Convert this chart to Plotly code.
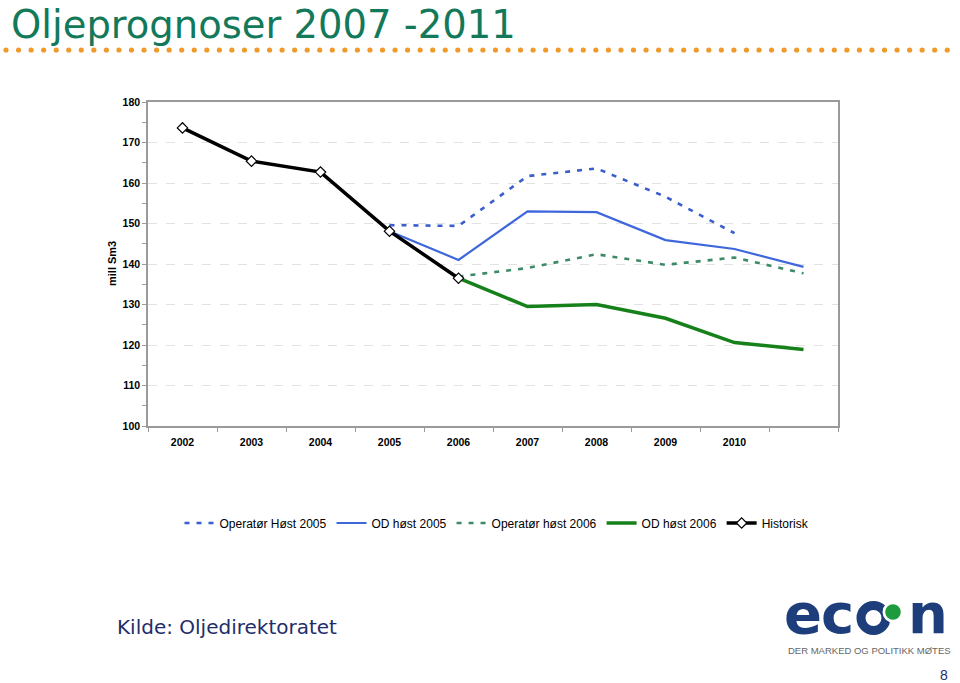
import plotly.graph_objects as go

years = [2002, 2003, 2004, 2005, 2006, 2007, 2008, 2009, 2010, 2011]
tick_years = [2002, 2003, 2004, 2005, 2006, 2007, 2008, 2009, 2010]
tick_labels = ["2002", "2003", "2004", "2005", "2006", "2007", "2008", "2009", "2010"]

operator_host_2005 = [None, None, None, 149.6, 149.4, 161.7, 163.6, 156.6, 147.6, None]
od_host_2005 = [None, None, None, 148.1, 141.0, 153.0, 152.8, 145.9, 143.7, 139.3]
operator_host_2006 = [None, None, None, None, 136.9, 139.0, 142.4, 139.8, 141.6, 137.7]
od_host_2006 = [None, None, None, None, 136.5, 129.5, 130.0, 126.6, 120.6, 118.9]
historisk = [173.6, 165.4, 162.7, 148.1, 136.5, None, None, None, None, None]

series_names = ["Operatør Høst 2005", "OD høst 2005", "Operatør høst 2006", "OD høst 2006", "Historisk"]

W, H = 960, 683
# plot area in pixels
L, R, T, B = 148, 838, 102, 426


def px(x):
    return (x - L) / (R - L)


def py(y):
    return (B - y) / (B - T)


fig = go.Figure()
fig.add_trace(go.Scatter(x=years, y=operator_host_2005, name=series_names[0], mode="lines",
                         line=dict(color="#3a5fcd", width=2.6, dash="5px,7px")))
fig.add_trace(go.Scatter(x=years, y=od_host_2005, name=series_names[1], mode="lines",
                         line=dict(color="#3f67dc", width=2.2)))
fig.add_trace(go.Scatter(x=years, y=operator_host_2006, name=series_names[2], mode="lines",
                         line=dict(color="#3d8a66", width=2.6, dash="5px,7px")))
fig.add_trace(go.Scatter(x=years, y=od_host_2006, name=series_names[3], mode="lines",
                         line=dict(color="#16801a", width=3.5)))
fig.add_trace(go.Scatter(x=years, y=historisk, name=series_names[4], mode="lines+markers",
                         line=dict(color="#000000", width=3.5),
                         marker=dict(symbol="diamond", size=8, color="white",
                                     line=dict(color="black", width=1.2))))

annotations = []
shapes = []

# title
annotations.append(dict(text="Oljeprognoser 2007 -2011", x=px(9), y=py(0), xref="paper", yref="paper",
                        xanchor="left", yanchor="top", showarrow=False,
                        font=dict(family="DejaVu Sans", size=38.5, color="#12795a")))
# orange dotted rule
n_dots = 76
for i in range(n_dots):
    cx = 6 + i * 12.55
    shapes.append(dict(type="circle", xref="paper", yref="paper", xsizemode="pixel", ysizemode="pixel",
                       xanchor=px(cx), yanchor=py(50), x0=-2.6, x1=2.6, y0=-2.6, y1=2.6,
                       fillcolor="#ef9a2a", line=dict(width=0)))
# y axis title
annotations.append(dict(text="<b>mill Sm3</b>", x=px(112), y=py(264), xref="paper", yref="paper",
                        xanchor="center", yanchor="middle", textangle=-90, showarrow=False,
                        font=dict(family="Liberation Sans", size=11, color="black")))
# source
annotations.append(dict(text="Kilde: Oljedirektoratet", x=px(115), y=py(627), xref="paper", yref="paper",
                        xanchor="left", yanchor="middle", showarrow=False,
                        font=dict(family="DejaVu Sans", size=20, color="#1f2d6b")))
# logo
navy = "#1e3d7b"
for ch, cx in [("e", 802.5), ("c", 837), ("n", 928)]:
    annotations.append(dict(text="<b>%s</b>" % ch, x=px(cx), y=py(613), xref="paper", yref="paper",
                            xanchor="center", yanchor="middle", showarrow=False,
                            font=dict(family="DejaVu Sans", size=56, color=navy)))
# "o" drawn as a ring
shapes.append(dict(type="circle", xref="paper", yref="paper", xsizemode="pixel", ysizemode="pixel",
                   xanchor=px(873.5), yanchor=py(618), x0=-12.5, x1=12.5, y0=-12.5, y1=12.5,
                   fillcolor="rgba(0,0,0,0)", line=dict(color=navy, width=9)))
shapes.append(dict(type="circle", xref="paper", yref="paper", xsizemode="pixel", ysizemode="pixel",
                   xanchor=px(893), yanchor=py(612), x0=-10.5, x1=10.5, y0=-10.5, y1=10.5,
                   fillcolor="white", line=dict(width=0)))
shapes.append(dict(type="circle", xref="paper", yref="paper", xsizemode="pixel", ysizemode="pixel",
                   xanchor=px(893), yanchor=py(612), x0=-7.8, x1=7.8, y0=-7.8, y1=7.8,
                   fillcolor="#1e9b3c", line=dict(width=0)))
annotations.append(dict(text="DER MARKED OG POLITIKK MØTES", x=px(869), y=py(650), xref="paper", yref="paper",
                        xanchor="center", yanchor="middle", showarrow=False,
                        font=dict(family="Liberation Sans", size=9.5, color="#666666")))
annotations.append(dict(text="8", x=px(944), y=py(675), xref="paper", yref="paper",
                        xanchor="center", yanchor="middle", showarrow=False,
                        font=dict(family="Liberation Sans", size=14, color="#1f2d6b")))

fig.update_layout(
    width=W, height=H,
    margin=dict(l=L, r=W - R, t=T, b=H - B, pad=0),
    paper_bgcolor="white", plot_bgcolor="white",
    showlegend=True,
    legend=dict(orientation="h", x=px(497), y=py(523), xanchor="center", yanchor="middle",
                font=dict(family="Liberation Sans", size=12, color="black"),
                itemwidth=30, tracegroupgap=0, bgcolor="rgba(0,0,0,0)"),
    annotations=annotations,
    shapes=shapes,
)
fig.update_xaxes(range=[2001.5, 2011.5], tickmode="array", tickvals=tick_years, ticktext=tick_labels,
                 ticks="", showgrid=False, zeroline=False,
                 showline=True, linecolor="#9a9a9a", linewidth=1.5, mirror=True,
                 tickfont=dict(family="Liberation Sans", size=10.5, color="black", weight="bold"),
                 ticklabelstandoff=6,
                 minor=dict(tickmode="linear", tick0=2001.5, dtick=1, ticks="outside", ticklen=4,
                            tickcolor="#9a9a9a", showgrid=False))
fig.update_yaxes(range=[100, 180], tickmode="linear", tick0=100, dtick=10,
                 ticks="outside", ticklen=4, tickcolor="#9a9a9a",
                 showgrid=True, gridcolor="#e2e2e2", griddash="dash", gridwidth=1, zeroline=False,
                 showline=True, linecolor="#9a9a9a", linewidth=1.5, mirror=True,
                 tickfont=dict(family="Liberation Sans", size=10.5, color="black", weight="bold"),
                 ticklabelstandoff=0,
                 minor=dict(tickmode="linear", tick0=105, dtick=10, ticks="outside", ticklen=4,
                            tickcolor="#9a9a9a", showgrid=False))

fig.write_html("out.html", config={"displayModeBar": False},
               post_script="document.body.style.margin='0';document.body.style.overflow='hidden';")
